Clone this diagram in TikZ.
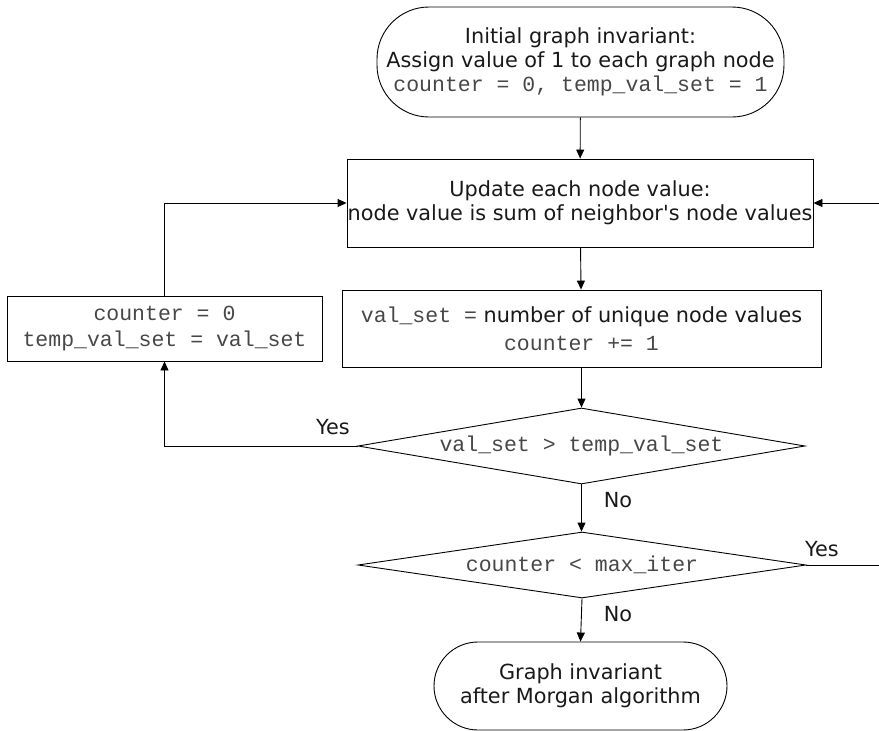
\documentclass[tikz,border=0pt]{standalone}
\usepackage{fontspec}
\setmainfont{DejaVu Sans}
\setmonofont{Liberation Mono}
\usetikzlibrary{arrows.meta,shapes.geometric}
\newcommand{\mytt}{\fontsize{21.5}{23}\selectfont\ttfamily\color{black!72}}
\begin{document}
\begin{tikzpicture}[x=1pt,y=-1pt,
  every node/.style={font=\fontsize{20.8}{23.5}\selectfont, text=black!90, inner sep=0pt},
  mono/.style={font=\fontsize{21.5}{26}\selectfont\ttfamily, text=black!72},
  term/.style={draw, line width=0.9pt, rounded corners=#1, align=center},
  procbox/.style={draw, line width=0.9pt, align=center},
  decision/.style={draw, line width=0.9pt, diamond, aspect=5.9},
  conn/.style={line width=0.9pt, -{Triangle[length=9pt,width=8pt]}},
  plain/.style={line width=0.9pt}
]
\useasboundingbox (0,0) rectangle (879,731);

\node[term=52pt, minimum width=407pt, minimum height=110pt] (start) at (580.5,62)
  {Initial graph invariant:\\Assign value of 1 to each graph node\\[1pt]{\mytt counter = 0, temp\_val\_set = 1}};

\node[procbox, minimum width=466pt, minimum height=88pt] (update) at (580,203)
  {Update each node value:\\node value is sum of neighbor\textquotesingle s node values};

\node[procbox, minimum width=479pt, minimum height=77pt] (count) at (581.5,328.5)
  {{\mytt val\_set =} number of unique node values\\[4pt]{\mytt counter += 1}};

\node[procbox, mono, minimum width=315pt, minimum height=65pt] (reset) at (164.5,328.5)
  {counter = 0\\temp\_val\_set = val\_set};

\node[decision, minimum width=447pt, minimum height=76pt] (dec1) at (581.5,446)
  {\mytt val\_set > temp\_val\_set};

\node[decision, minimum width=448pt, minimum height=66pt] (dec2) at (582,565)
  {\mytt counter < max\_iter};

\node[term=44pt, minimum width=293pt, minimum height=88pt] (final) at (580.5,686)
  {Graph invariant\\after Morgan algorithm};

\coordinate (rt) at (880,565);
\coordinate (rtop) at (880,203);

\draw[conn] (start) -- (update);
\draw[conn] (update) -- (count);
\draw[conn] (count.south) -- (count.south |- dec1.north);
\draw[conn] (dec1.south) -- (dec1.south |- dec2.north);
\draw[conn] (dec2.south) -- (final.north);
\draw[conn] (dec1.west) -| (reset.south);
\draw[conn] (reset.north) |- (update.west);
\draw[plain] (dec2.east) -- (rt) -- (rtop);
\draw[conn] (rtop) -- (update.east);

\node (yes1) at (333,427) {Yes};
\node (no1) at (618,500) {No};
\node (yes2) at (822,549) {Yes};
\node (no2) at (618,614) {No};
\end{tikzpicture}
\end{document}
